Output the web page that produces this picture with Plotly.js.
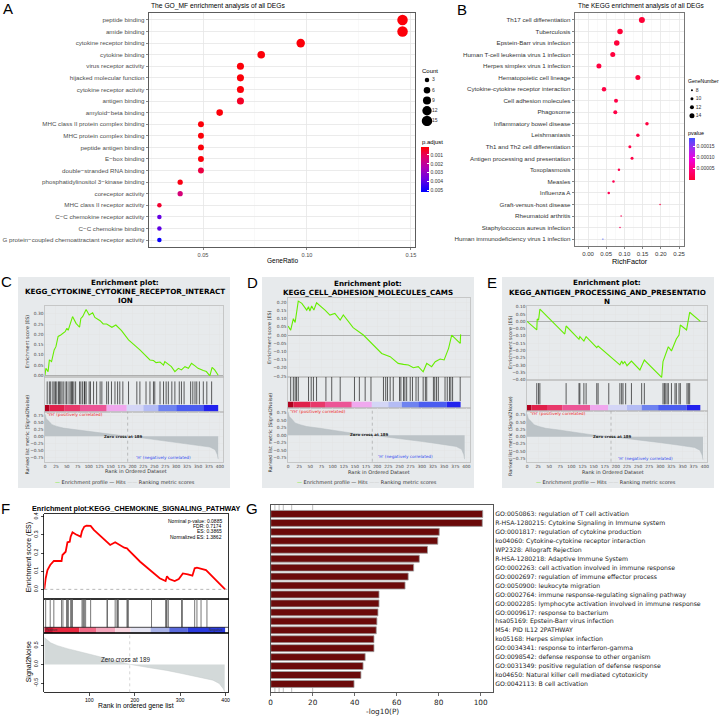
<!DOCTYPE html>
<html><head><meta charset="utf-8">
<script src="https://cdn.plot.ly/plotly-3.0.1.min.js"></script>
<style>html,body{margin:0;padding:0;background:#fff}#chart{width:720px;height:718px}</style>
</head><body><div id="chart"></div>
<script>
// ================= DATA =================
// Panel A : GO_MF enrichment
const goTerms = ["peptide binding","amide binding","cytokine receptor binding","cytokine binding","virus receptor activity","hijacked molecular function","cytokine receptor activity","antigen binding","amyloid\u2212beta binding","MHC class II protein complex binding","MHC protein complex binding","peptide antigen binding","E\u2212box binding","double\u2212stranded RNA binding","phosphatidylinositol 3\u2212kinase binding","coreceptor activity","MHC class II receptor activity","C\u2212C chemokine receptor activity","C\u2212C chemokine binding","G protein\u2212coupled chemoattractant receptor activity"];
const goRatio = [0.146,0.146,0.097,0.078,0.068,0.068,0.068,0.068,0.058,0.049,0.049,0.049,0.049,0.049,0.039,0.039,0.029,0.029,0.029,0.029];
const goCount = [15,15,10,8,7,7,7,7,6,5,5,5,5,5,4,4,3,3,3,3];
const goPadj = [0.0002,0.0002,0.0002,0.0002,0.0002,0.0002,0.0002,0.0005,0.0002,0.0002,0.0002,0.0002,0.0002,0.0008,0.0003,0.0015,0.0006,0.0038,0.0039,0.0051];
const countLegend = [3,6,9,12,15];
const padjTicks = [0.001,0.002,0.003,0.004,0.005];

// Panel B : KEGG enrichment
const keggTerms = ["Th17 cell differentiation","Tuberculosis","Epstein-Barr virus infection","Human T-cell leukemia virus 1 infection","Herpes simplex virus 1 infection","Hematopoietic cell lineage","Cytokine-cytokine receptor interaction","Cell adhesion molecules","Phagosome","Inflammatory bowel disease","Leishmaniasis","Th1 and Th2 cell differentiation","Antigen processing and presentation","Toxoplasmosis","Measles","Influenza A","Graft-versus-host disease","Rheumatoid arthritis","Staphylococcus aureus infection","Human immunodeficiency virus 1 infection"];
const keggRich = [0.148,0.088,0.079,0.068,0.030,0.137,0.044,0.077,0.075,0.162,0.137,0.115,0.121,0.085,0.070,0.057,0.198,0.091,0.088,0.041];
const keggGenes = [16,15,15,14,14,14,13,12,12,11,11,10,10,9,9,9,7,7,7,6];
const keggP = [0.000002,0.000003,0.000004,0.000006,0.000008,0.000005,0.00001,0.000012,0.000012,0.000008,0.00001,0.000012,0.000012,0.000015,0.000018,0.00002,0.00001,0.00002,0.000025,0.000186];
const geneLegend = [8,10,12,14];
const pTicks = [0.00005,0.0001,0.00015];

// Panels C, D, E : GSEA (shared ranked list)
const rlRank = [0,1,3,9,16,27,42,72,110,148,189,225,263,301,339,377,389,394,396];
const rlVal  = [0.78,0.7,0.62,0.53,0.41,0.35,0.29,0.23,0.15,0.06,0,-0.06,-0.14,-0.21,-0.29,-0.375,-0.47,-0.64,-0.8];
const zeroCross = 189;

const cEsRank = [0,2,7,10,15,21,25,30,36,40,46,50,53,63,71,79,82,86,94,101,109,114,120,126,133,141,153,162,175,191,217,240,248,254,263,271,274,282,289,297,305,312,320,328,335,343,350,362,369,377,382,388,396];
const cEsVal  = [0,0.034,0.018,0.075,0.067,0.124,0.14,0.19,0.197,0.205,0.213,0.23,0.22,0.287,0.254,0.235,0.278,0.287,0.322,0.295,0.306,0.283,0.274,0.267,0.251,0.251,0.235,0.246,0.218,0.173,0.124,0.075,0.072,0.062,0.065,0.05,0.067,0.055,0.042,0.018,0.034,0.026,0.042,0.034,0.059,0.046,0.034,0.023,0.018,-0.003,0.039,0.026,0];
const cHits = [5,10,13,18,21,24,27,31,33,36,39,43,48,50,55,59,61,63,66,70,79,82,86,90,91,94,101,104,111,118,126,130,141,145,152,160,166,171,178,191,210,217,231,240,248,251,263,271,277,282,290,297,307,312,318,333,338,343,347,353,362,370,381];
const cStripEdges = [0,10,45,80,141,187,225,259,300,362,396];

const dEsRank = [0,6,12,16,23,31,42,46,49,53,58,64,83,88,94,105,117,124,146,169,191,210,229,236,247,259,270,281,292,303,311,322,330,341,350,360,367,386,387];
const dEsVal  = [0.055,0.03,0.10,0.077,0.207,0.193,0.152,0.173,0.146,0.177,0.152,0.197,0.152,0.138,0.122,0.132,0.091,0.122,0.045,0.0,-0.061,-0.112,-0.132,-0.146,-0.173,-0.179,-0.183,-0.199,-0.193,-0.224,-0.173,-0.193,-0.163,-0.146,-0.152,-0.081,0.0,-0.051,0.004];
const dHits = [6,12,16,19,23,46,52,57,64,85,98,117,149,160,173,186,214,219,223,229,236,250,253,259,262,266,274,279,287,292,303,308,311,326,329,333,337,352,357,362,365,369,386];
const dStripEdges = [0,12,50,83,143,188,225,255,292,356,387];

const eEsRank = [0,22,23,26,29,85,88,117,119,128,133,157,160,209,213,216,220,225,235,254,264,303,306,312,318,325,333,336,342,345,359,363,366,390];
const eEsVal  = [0,-0.059,0.016,0.009,0.084,-0.087,-0.032,-0.123,-0.105,-0.135,-0.105,-0.18,-0.169,-0.299,-0.272,-0.29,-0.276,-0.304,-0.272,-0.333,-0.265,-0.384,-0.276,-0.231,-0.174,-0.203,-0.144,-0.121,-0.094,-0.025,-0.059,0.009,0.062,0];
const eHits = [22,26,29,88,117,119,128,133,157,160,184,209,213,216,222,235,258,264,306,309,311,315,318,325,333,336,342,345,360,363,366];
const eStripEdges = [0,10,45,80,142,183,225,258,295,359,390];

// Panel F : chemokine GSEA
const fEsRank = [1,4,8,14,22,39,41,48,52,57,59,63,70,81,84,89,94,103,110,124,139,146,157,161,168,177,183,186,212,241,255,268,271,276,288,297,306,317,327,332,337,357,379,399];
const fEsVal  = [0,0.06,0.106,0.134,0.156,0.156,0.189,0.207,0.259,0.262,0.29,0.314,0.303,0.29,0.321,0.345,0.35,0.349,0.327,0.294,0.259,0.244,0.259,0.253,0.244,0.229,0.226,0.217,0.152,0.094,0.061,0.046,0.072,0.057,0.046,0.057,0.088,0.083,0.075,0.116,0.119,0.106,0.051,0];
const fHits = [4,14,22,39,42,50,52,54,59,61,63,84,86,88,89,92,103,139,140,157,161,162,164,183,184,186,237,268,270,271,274,303,305,332,337,346,359];
const fStripEdges = [1,20,78,116,157,191,235,276,317,399];
const fRlRank = [1,3,8,15,30,52,88,124,161,190,233,270,306,343,372,386,395,398];
const fRlVal  = [0.72,0.70,0.64,0.575,0.50,0.42,0.31,0.195,0.09,0,-0.09,-0.16,-0.25,-0.34,-0.42,-0.51,-0.65,-0.73];
const fStats = ["Nominal p-value: 0.0885","FDR: 0.7174","ES: 0.3865","Normalized ES: 1.3862"];

// Panel G : enrichment bars
const gTerms = ["GO:0050863: regulation of T cell activation","R-HSA-1280215: Cytokine Signaling in Immune system","GO:0001817: regulation of cytokine production","ko04060: Cytokine-cytokine receptor interaction","WP2328: Allograft Rejection","R-HSA-1280218: Adaptive Immune System","GO:0002263: cell activation involved in immune response","GO:0002697: regulation of immune effector process","GO:0050900: leukocyte migration","GO:0002764: immune response-regulating signaling pathway","GO:0002285: lymphocyte activation involved in immune response","GO:0009617: response to bacterium","hsa05169: Epstein-Barr virus infection","M54: PID IL12 2PATHWAY","ko05168: Herpes simplex infection","GO:0034341: response to interferon-gamma","GO:0098542: defense response to other organism","GO:0031349: positive regulation of defense response","ko04650: Natural killer cell mediated cytotoxicity","GO:0042113: B cell activation"];
const gVals = [101.0,100.8,80.3,79.6,74.7,70.8,68.1,65.5,64.0,51.6,51.6,51.1,50.6,50.3,49.2,49.2,45.0,44.0,43.0,39.7];
const gMinorTicks = [2,4,6,10,20];

// ================= BUILD =================
const W=720,H=718;
const LS='Liberation Sans, Arial, sans-serif', DJ='DejaVu Sans, sans-serif';
const dx=(l,r)=>[l/W,r/W];
const dy=(t,b)=>[1-b/H,1-t/H];
const traces=[];
const layout={width:W,height:H,margin:{l:0,r:0,t:0,b:0,pad:0},paper_bgcolor:'#ffffff',plot_bgcolor:'#ffffff',
  showlegend:false,barmode:'overlay',annotations:[],shapes:[],font:{family:LS,size:6,color:'#333'}};
function ids(n){return n===1?{x:'x',y:'y',xk:'xaxis',yk:'yaxis'}:{x:'x'+n,y:'y'+n,xk:'xaxis'+n,yk:'yaxis'+n};}
function setAx(n,xa,ya){const a=ids(n);
  layout[a.xk]=Object.assign({anchor:a.y,fixedrange:true,zeroline:false},xa);
  layout[a.yk]=Object.assign({anchor:a.x,fixedrange:true,zeroline:false},ya);}
function ann(text,x,y,f,o){
  layout.annotations.push(Object.assign({text:text,x:x/W,y:1-y/H,xref:'paper',yref:'paper',showarrow:false,
    xanchor:'center',yanchor:'middle',borderpad:0,font:Object.assign({family:LS,size:6,color:'#000'},f||{})},o||{}));}

// ---------- Panel A ----------
const sizeA=c=>Math.sqrt(7.5*c-2.25);
const scaleA=[[0,'#0000FF'],[0.3,'#7000E0'],[0.55,'#B000B0'],[0.8,'#E40060'],[1,'#FF0000']];
traces.push({type:'scatter',mode:'markers',x:goRatio,y:goTerms,xaxis:'x',yaxis:'y',hoverinfo:'skip',
  marker:{opacity:1,size:goCount.map(sizeA),color:goPadj.map(v=>-v),cmin:-0.0052,cmax:-0.0001,colorscale:scaleA,line:{width:0},showscale:true,
    colorbar:{x:421/W,xanchor:'left',y:1-147/H,yanchor:'top',len:45,lenmode:'pixels',thickness:8,thicknessmode:'pixels',
      outlinewidth:0,xpad:0,ypad:0,tickmode:'array',tickvals:padjTicks.map(v=>-v),ticktext:padjTicks.map(v=>v.toFixed(3)),
      ticks:'inside',ticklen:2,tickcolor:'#fff',tickfont:{family:LS,size:5,color:'#333'}}}});
const ggX={showline:true,mirror:true,linecolor:'#333',linewidth:0.8,ticks:'outside',ticklen:2.5,tickwidth:0.6,tickcolor:'#333',
  showgrid:true,gridcolor:'#E6E6E6',gridwidth:0.8};
setAx(1,Object.assign({},ggX,{domain:dx(149,415),range:[0.024,0.152],tick0:0,dtick:0.05,tickformat:'.2f',ticklen:2,
    tickfont:{family:LS,size:5.6,color:'#4D4D4D'},minor:{tick0:0,dtick:0.025,showgrid:true,gridcolor:'#F3F3F3',gridwidth:0.5,ticks:''}}),
  Object.assign({},ggX,{domain:dy(13,247),type:'category',categoryorder:'array',categoryarray:goTerms,range:[19.6,-0.6],
    tickmode:'array',tickvals:goTerms,ticktext:goTerms,tickfont:{family:LS,size:6.2,color:'#4D4D4D'}}));
ann('The GO_MF enrichment analysis of all DEGs',150,6.5,{size:6.7},{xanchor:'left'});
ann('GeneRatio',282,260,{size:6.5});
// size legend A
setAx(3,{domain:dx(420,460),range:[0,4],visible:false},
  {domain:dy(75,126),type:'category',categoryorder:'array',categoryarray:countLegend.map(String),range:[4.5,-0.5],visible:false});
traces.push({type:'scatter',mode:'markers',x:countLegend.map(()=>0.7),y:countLegend.map(String),xaxis:'x3',yaxis:'y3',hoverinfo:'skip',
  marker:{opacity:1,size:countLegend.map(sizeA),color:'#000',line:{width:0}}});
traces.push({type:'scatter',mode:'text',x:countLegend.map(()=>1.2),y:countLegend.map(String),text:countLegend.map(String),
  textposition:'middle right',textfont:{family:LS,size:5,color:'#333'},xaxis:'x3',yaxis:'y3',hoverinfo:'skip'});
ann('Count',421,71,{size:6},{xanchor:'left'});
ann('p.adjust',421,141.5,{size:6},{xanchor:'left'});

// ---------- Panel B ----------
const sizeB=g=>Math.max(1.2,2+(g-8)*0.5);
const scaleB=[[0,'#FF0033'],[0.3,'#FF0090'],[0.5,'#F000E0'],[0.75,'#A030F0'],[1,'#4050FF']];
traces.push({type:'scatter',mode:'markers',x:keggRich,y:keggTerms,xaxis:'x2',yaxis:'y2',hoverinfo:'skip',
  marker:{opacity:1,size:keggGenes.map(sizeB),color:keggP,cmin:0,cmax:0.000186,colorscale:scaleB,line:{width:0},showscale:true,
    colorbar:{x:689/W,xanchor:'left',y:1-138/H,yanchor:'top',len:42,lenmode:'pixels',thickness:6,thicknessmode:'pixels',
      outlinewidth:0,xpad:0,ypad:0,tickmode:'array',tickvals:pTicks,ticktext:pTicks.map(v=>v.toFixed(5)),
      ticks:'inside',ticklen:2,tickcolor:'#fff',tickfont:{family:LS,size:5,color:'#333'}}}});
setAx(2,Object.assign({},ggX,{domain:dx(575,684),range:[-0.0357,0.2637],tick0:0,dtick:0.05,tickformat:'.2f',linecolor:'#555',ticklen:2,
    tickfont:{family:LS,size:6,color:'#333'},minor:{tick0:0,dtick:0.025,showgrid:true,gridcolor:'#F3F3F3',gridwidth:0.5,ticks:''}}),
  Object.assign({},ggX,{domain:dy(13,246),type:'category',categoryorder:'array',categoryarray:keggTerms,range:[19.6,-0.6],linecolor:'#555',
    tickmode:'array',tickvals:keggTerms,ticktext:keggTerms,tickfont:{family:LS,size:6.2,color:'#333'}}));
ann('The KEGG enrichment analysis of all DEGs',577,6.5,{size:6.5},{xanchor:'left'});
ann('RichFactor',630,261.5,{size:7.3});
setAx(4,{domain:dx(686,714),range:[0,4],visible:false},
  {domain:dy(86,120),type:'category',categoryorder:'array',categoryarray:geneLegend.map(String),range:[3.5,-0.5],visible:false});
traces.push({type:'scatter',mode:'markers',x:geneLegend.map(()=>0.85),y:geneLegend.map(String),xaxis:'x4',yaxis:'y4',hoverinfo:'skip',
  marker:{opacity:1,size:geneLegend.map(sizeB),color:'#000',line:{width:0}}});
traces.push({type:'scatter',mode:'text',x:geneLegend.map(()=>1.4),y:geneLegend.map(String),text:geneLegend.map(String),
  textposition:'middle right',textfont:{family:LS,size:5,color:'#333'},xaxis:'x4',yaxis:'y4',hoverinfo:'skip'});
ann('GeneNumber',687,81,{size:5.1},{xanchor:'left'});
ann('pvalue',687,133,{size:5.4},{xanchor:'left'});

// Panel letters
[['A',7.7,8.5],['B',461.5,9.5],['C',6,281],['D',252.5,282],['E',492,282],['F',5,508.5],['G',252.5,508.5]]
  .forEach(a=>ann(a[0],a[1],a[2],{size:15}));

// ---------- GSEA C/D/E ----------
const gseaStripColors=['#B0001E','#E0204A','#E8386A','#EC5596','#F0A8EE','#D4D6F6','#B4BCF4','#6E82F0','#4A5CF0','#2222EE'];
function gsea(n,g,esR,esV,hits,edges){
  const e=ids(n),h=ids(n+1),r=ids(n+2);
  const tf={family:DJ,size:4.3,color:'#444'};
  const grid='#E3E3E3', lc='#B8B8B8';
  layout.shapes.push({type:'rect',xref:'paper',yref:'paper',x0:g.box[0]/W,x1:g.box[2]/W,y0:1-g.box[3]/H,y1:1-g.box[1]/H,
    fillcolor:'#E7EAEC',line:{width:0},layer:'below'});
  const xc={domain:dx(g.px[0],g.px[1]),range:g.xr,showline:true,mirror:true,linecolor:lc,linewidth:0.7,ticks:'',tick0:0,dtick:25,tickfont:tf};
  setAx(n,Object.assign({},xc,{showticklabels:false,showgrid:true,gridcolor:grid,gridwidth:0.5}),
    {domain:dy(g.es[0],g.es[1]),range:g.esr,tick0:0,dtick:0.05,tickformat:'.2f',showgrid:true,gridcolor:grid,gridwidth:0.5,
     zeroline:true,zerolinecolor:'#A0A0A0',zerolinewidth:0.8,showline:true,mirror:true,linecolor:lc,linewidth:0.7,ticks:'',tickfont:tf});
  setAx(n+1,Object.assign({},xc,{showticklabels:false,showgrid:false}),
    {domain:dy(g.hs[0],g.hs[1]),range:[0,1],showticklabels:false,showgrid:false,showline:true,mirror:true,linecolor:lc,linewidth:0.7,ticks:''});
  setAx(n+2,Object.assign({},xc,{showticklabels:true,showgrid:true,gridcolor:grid,gridwidth:0.5}),
    {domain:dy(g.rk[0],g.rk[1]),range:g.rkr,tick0:0,dtick:0.25,tickformat:'.2f',showgrid:true,gridcolor:grid,gridwidth:0.5,
     showline:true,mirror:true,linecolor:lc,linewidth:0.7,ticks:'',tickfont:tf});
  traces.push({type:'scatter',mode:'lines',x:rlRank,y:rlVal,xaxis:r.x,yaxis:r.y,fill:'tozeroy',fillcolor:'#BCC3C7',
    line:{color:'#B5BCC0',width:0.5},hoverinfo:'skip'});
  traces.push({type:'scatter',mode:'lines',x:esR,y:esV,xaxis:e.x,yaxis:e.y,line:{color:'#66EE00',width:1.1},hoverinfo:'skip'});
  const hx=[],hy=[];
  hits.forEach(v=>{hx.push(v,v,null);hy.push(g.sf+0.02,g.ht,null);});
  traces.push({type:'scatter',mode:'lines',x:hx,y:hy,xaxis:h.x,yaxis:h.y,line:{color:'rgba(0,0,0,0.78)',width:0.8},hoverinfo:'skip'});
  traces.push({type:'bar',orientation:'h',x:edges.slice(1).map((v,i)=>v-edges[i]),base:edges.slice(0,-1),
    y:edges.slice(1).map(()=>g.sf/2),width:g.sf,marker:{color:gseaStripColors,line:{width:0}},xaxis:h.x,yaxis:h.y,hoverinfo:'skip'});
  layout.shapes.push({type:'line',xref:r.x,yref:r.y+' domain',x0:zeroCross,x1:zeroCross,y0:0,y1:1,line:{color:'#9a9a9a',width:0.6,dash:'dot'}});
  // texts
  g.titles.forEach((t,i)=>ann('<b>'+t+'</b>',g.tx,g.ty[i],{family:DJ,size:7.2}));
  ann('Enrichment score (ES)',g.lx,(g.es[0]+g.es[1])/2,{family:DJ,size:4.8,color:'#333'},{textangle:-90});
  ann('Ranked list metric (Signal2Noise)',g.lx,g.rly,{family:DJ,size:4.8,color:'#333'},{textangle:-90});
  ann("'YH' (positively correlated)",g.pos[0],g.pos[1],{family:DJ,size:4.2,color:'#F02828'},{xanchor:'left'});
  ann('<b>Zero cross at '+zeroCross+'</b>',g.zc[0],g.zc[1],{family:DJ,size:3.9,color:'#222'});
  ann("'H' (negatively correlated)",g.neg[0],g.neg[1],{family:DJ,size:4.2,color:'#3048F0'});
  ann('Rank in Ordered Dataset',g.rt[0],g.rt[1],{family:DJ,size:5,color:'#333'});
  ann('<span style="color:#66EE00">\u2014</span> Enrichment profile \u2014 Hits <span style="color:#C8C8C8">\u2014\u2014</span> Ranking metric scores',
    g.lg[0],g.lg[1],{family:DJ,size:5,color:'#333'});
}
gsea(5,{box:[18,277,230,488],px:[45,223],xr:[0,407],es:[306,377.3],esr:[-0.01,0.339],hs:[377.3,411.7],sf:0.195,ht:0.88,
  rk:[411.7,461.7],rkr:[-0.89,0.866],titles:['Enrichment plot:','KEGG_CYTOKINE_CYTOKINE_RECEPTOR_INTERACT','ION'],tx:125,ty:[282,291.5,300.5],
  lx:27.5,rly:435,pos:[46,414.3],zc:[123,436],neg:[163,457.7],rt:[136,471.3],lg:[124.5,483]},cEsRank,cEsVal,cHits,cStripEdges);
gsea(8,{box:[262,277,474,488],px:[288,470],xr:[0,408],es:[298.3,376.7],esr:[-0.254,0.224],hs:[376.7,408.3],sf:0.21,ht:1,
  rk:[408.3,461.7],rkr:[-0.883,0.897],titles:['Enrichment plot:','KEGG_CELL_ADHESION_MOLECULES_CAMS'],tx:368,ty:[283,292.3],
  lx:269.5,rly:433,pos:[289,411.5],zc:[370,434],neg:[405,456.7],rt:[378.5,471.7],lg:[366.5,483]},dEsRank,dEsVal,dHits,dStripEdges);
gsea(11,{box:[502,277,714,488],px:[527,707],xr:[0,405],es:[306,380],esr:[-0.402,0.105],hs:[380,411],sf:0.194,ht:0.9,
  rk:[411,461.7],rkr:[-0.868,0.888],titles:['Enrichment plot:','KEGG_ANTIGEN_PROCESSING_AND_PRESENTATIO','N'],tx:607,ty:[282,292,301],
  lx:510,rly:436,pos:[529,413.5],zc:[612,436],neg:[645,458],rt:[612.5,471.7],lg:[606,483]},eEsRank,eEsVal,eHits,eStripEdges);

// ---------- Panel F ----------
(function(){
  const tf={family:LS,size:5.2,color:'#000'};
  const frame={showline:true,mirror:true,linecolor:'#000',linewidth:0.8,showgrid:false};
  const xc=Object.assign({domain:dx(44.3,228.3),range:[1,406]},frame);
  setAx(14,Object.assign({},xc,{showticklabels:false,ticks:''}),
    Object.assign({domain:dy(514.3,599),range:[-0.053,0.413],tick0:0,dtick:0.1,tickformat:'.1f',tickangle:-90,ticks:'outside',ticklen:3,
      tickwidth:0.7,tickcolor:'#000',tickfont:tf},frame));
  setAx(15,Object.assign({},xc,{showticklabels:false,ticks:''}),
    Object.assign({domain:dy(599,633.3),range:[0,1],showticklabels:false,ticks:''},frame));
  setAx(16,Object.assign({},xc,{tick0:0,dtick:100,ticks:'outside',ticklen:2.5,tickwidth:0.7,tickcolor:'#000',tickfont:tf}),
    Object.assign({domain:dy(633.3,692.3),range:[-0.745,0.83],tickmode:'array',tickvals:[-0.5,0,0.5],ticktext:['-0.5','0.0','0.5'],
      tickangle:-90,ticks:'outside',ticklen:3,tickwidth:0.7,tickcolor:'#000',tickfont:tf},frame));
  const sf=0.175;
  traces.push({type:'scatter',mode:'lines',x:fRlRank,y:fRlVal,xaxis:'x16',yaxis:'y16',fill:'tozeroy',fillcolor:'#D3D9D9',
    line:{color:'#C6CDCD',width:0.5},hoverinfo:'skip'});
  traces.push({type:'scatter',mode:'lines',x:fEsRank,y:fEsVal,xaxis:'x14',yaxis:'y14',line:{color:'#FF0000',width:1.8},hoverinfo:'skip'});
  const hx=[],hy=[];
  fHits.forEach(v=>{hx.push(v,v,null);hy.push(sf,1,null);});
  traces.push({type:'scatter',mode:'lines',x:hx,y:hy,xaxis:'x15',yaxis:'y15',line:{color:'#555',width:0.8},hoverinfo:'skip'});
  const fColors=['#C8102E','#E8283F','#F06A86','#F4A6BC','#F8D6E0','#E4E4F2','#A8B2E8','#5A6ADC','#2A3ADE'];
  traces.push({type:'bar',orientation:'h',x:fStripEdges.slice(1).map((v,i)=>v-fStripEdges[i]),base:fStripEdges.slice(0,-1),
    y:fStripEdges.slice(1).map(()=>sf/2),width:sf,marker:{color:fColors,line:{width:0}},xaxis:'x15',yaxis:'y15',hoverinfo:'skip'});
  layout.shapes.push({type:'line',xref:'x15 domain',yref:'y15',x0:0,x1:1,y0:sf,y1:sf,line:{color:'#000',width:0.7}});
  layout.shapes.push({type:'line',xref:'x14 domain',yref:'y14',x0:0,x1:1,y0:0,y1:0,line:{color:'#999',width:0.7,dash:'dot'}});
  layout.shapes.push({type:'line',xref:'x16',yref:'y16 domain',x0:zeroCross,x1:zeroCross,y0:0,y1:1,line:{color:'#bbb',width:0.6,dash:'dot'}});
  ann('<b>Enrichment plot:KEGG_CHEMOKINE_SIGNALING_PATHWAY</b>',136,508.3,{size:7.2});
  [520.7,526,531.3,536.5].forEach((y,i)=>ann(fStats[i],222.7,y,{size:5},{xanchor:'right'}));
  ann('Positive',51,630.3,{size:3.5,color:'#333'});
  ann('Negative',216,630.3,{size:3.5,color:'#333'});
  ann('Zero cross at '+zeroCross,125,659,{size:6.3,color:'#222'});
  ann('Enrichment score (ES)',29.3,557,{size:7},{textangle:-90});
  ann('Signal2Noise',29.3,662,{size:7},{textangle:-90});
  ann('Rank in ordered gene list',136,706,{size:6.8});
})();

// ---------- Panel G ----------
setAx(17,{domain:dx(270.7,493),range:[0,105.9],tick0:0,dtick:20,ticks:'outside',ticklen:3,tickwidth:0.8,tickcolor:'#444',
    tickfont:{family:DJ,size:7.3,color:'#1a1a1a'},showline:true,mirror:true,linecolor:'#555',linewidth:1,showgrid:false},
  {domain:dy(505,692),type:'category',categoryorder:'array',categoryarray:gTerms,range:[19.9,-1.0],side:'right',
    tickmode:'array',tickvals:gTerms,ticktext:gTerms,ticks:'',tickfont:{family:DJ,size:6.2,color:'#1a1a1a'},
    showline:true,mirror:true,linecolor:'#555',linewidth:1,showgrid:false});
traces.push({type:'bar',orientation:'h',x:gVals,y:gTerms,xaxis:'x17',yaxis:'y17',width:0.78,
  marker:{color:'#6B0A0A',line:{color:'#A0A0A0',width:0.8}},hoverinfo:'skip'});
gMinorTicks.forEach(v=>{
  layout.shapes.push({type:'line',xref:'x17',yref:'y17 domain',x0:v,x1:v,y0:1-5/187,y1:1,line:{color:'#BDBDBD',width:1},layer:'below'});
  layout.shapes.push({type:'line',xref:'x17',yref:'y17 domain',x0:v,x1:v,y0:0,y1:4.4/187,line:{color:'#BDBDBD',width:1},layer:'below'});
});
ann('-log10(P)',382,711.5,{family:DJ,size:7.3,color:'#1a1a1a'});

Plotly.newPlot('chart',traces,layout,{staticPlot:true,displayModeBar:false});
</script></body></html>
